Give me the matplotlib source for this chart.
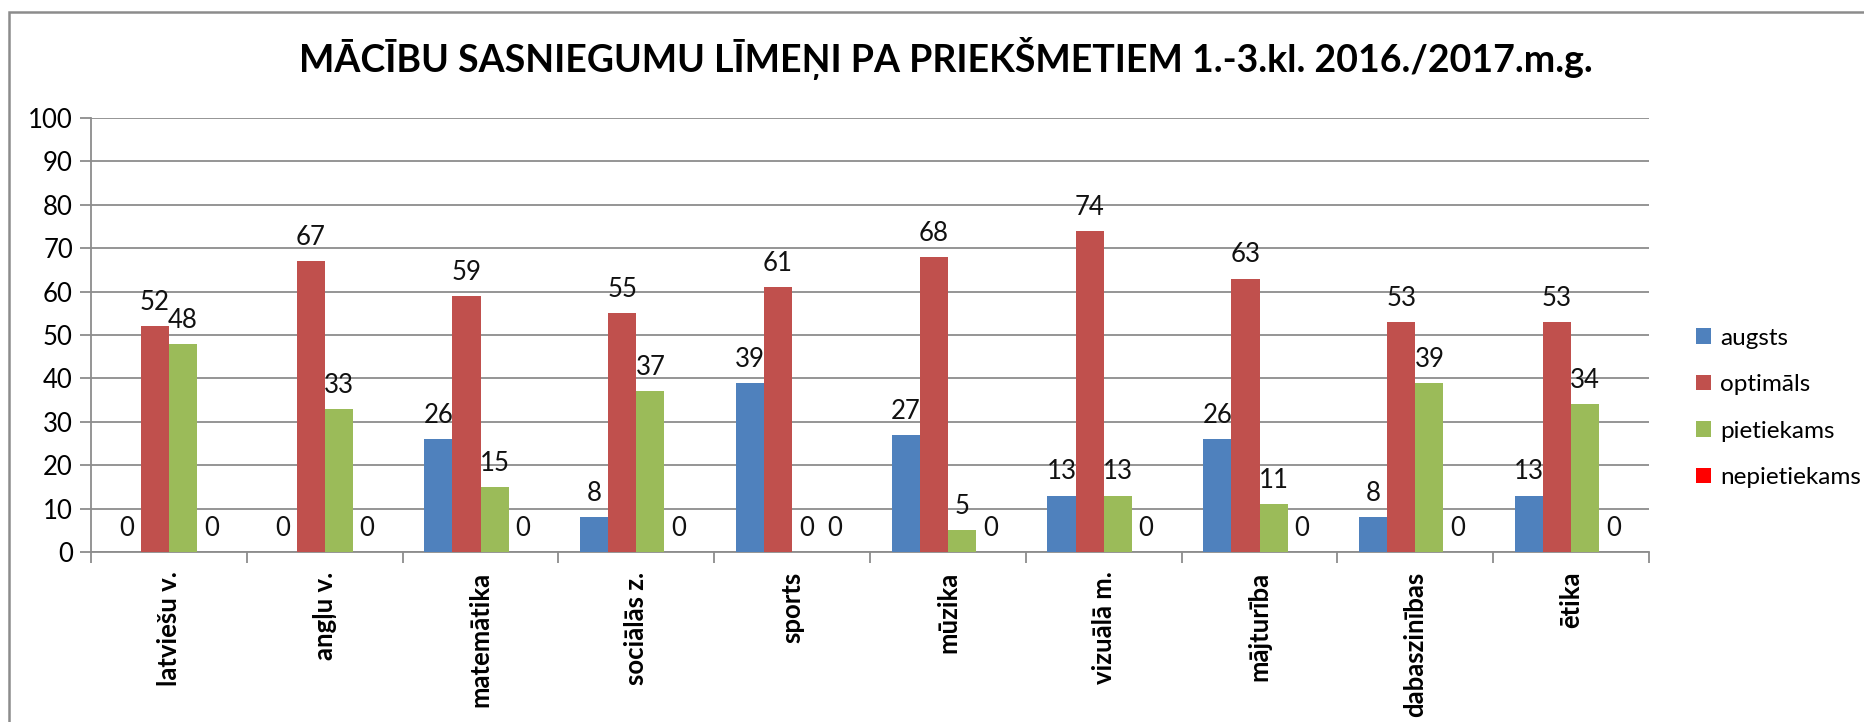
import numpy as np
import matplotlib
matplotlib.use("Agg")
import matplotlib.pyplot as plt
from matplotlib.patches import Rectangle

plt.rcParams['font.family'] = ['Lato', 'DejaVu Sans']

# Subjects and achievement levels (percent)
subjects = ["latviešu v.", "angļu v.", "matemātika", "sociālās z.", "sports",
            "mūzika", "vizuālā m.", "mājturība", "dabaszinības", "ētika"]
augsts = [0, 0, 26, 8, 39, 27, 13, 26, 8, 13]
optimals = [52, 67, 59, 55, 61, 68, 74, 63, 53, 53]
pietiekams = [48, 33, 15, 37, 0, 5, 13, 11, 39, 34]
nepietiekams = [0, 0, 0, 0, 0, 0, 0, 0, 0, 0]

series_names = ["augsts", "optimāls", "pietiekams", "nepietiekams"]
colors = ["#4F81BD", "#C0504D", "#9BBB59", "#FF0000"]

fs = 18.5

fig = plt.figure(figsize=(18.65, 7.22), dpi=100)
ax = fig.add_axes([91 / 1865, 1 - 552 / 722, (1649 - 91) / 1865, (552 - 118) / 722])

# outer chart frame like in excel
fig.patches.append(Rectangle((9 / 1865, -0.2), 1.2, 1.2 - 12 / 722,
                             transform=fig.transFigure, fill=False,
                             edgecolor="#8c8c8c", linewidth=1.8))

x = np.arange(len(subjects))
w = 0.181
data = [augsts, optimals, pietiekams, nepietiekams]
for i, (vals, name, col) in enumerate(zip(data, series_names, colors)):
    pos = x + (i - 1.5) * w
    bars = ax.bar(pos, vals, w, color=col, label=name, zorder=3)
    for b, v in zip(bars, vals):
        ax.annotate(str(v), (b.get_x() + b.get_width() / 2, v),
                    xytext=(0, 8), textcoords="offset points",
                    ha="center", va="bottom", fontsize=fs, color="#111111")

ax.set_xlim(-0.5, len(subjects) - 0.5)
ax.set_ylim(0, 100)
ax.set_yticks(range(0, 101, 10))
ax.grid(axis="y", color="#8c8c8c", linewidth=1.3, zorder=0)
ax.set_axisbelow(True)

ax.set_xticks(np.arange(len(subjects) + 1) - 0.5)
ax.set_xticklabels([])
ax.set_xticks(x, minor=True)
ax.set_xticklabels(subjects, minor=True, rotation=90, fontweight="bold",
                   fontsize=fs, va="top")
ax.tick_params(axis="x", which="minor", length=0, pad=14)
ax.tick_params(axis="x", which="major", length=8, width=1.3, color="#8c8c8c", direction="out")
ax.tick_params(axis="y", length=8, width=1.3, color="#8c8c8c", labelsize=fs, pad=5)

for s in ["top", "right"]:
    ax.spines[s].set_visible(False)
for s in ["left", "bottom"]:
    ax.spines[s].set_color("#8c8c8c")
    ax.spines[s].set_linewidth(1.3)

fig.text(946 / 1865, 1 - 59 / 722,
         "MĀCĪBU SASNIEGUMU LĪMEŅI PA PRIEKŠMETIEM 1.-3.kl. 2016./2017.m.g.",
         ha="center", va="center", fontsize=27, fontweight="bold")

fig.legend(loc="center left", bbox_to_anchor=(1684 / 1865, 1 - 408 / 722),
           frameon=False, fontsize=17.5, handlelength=0.6, handleheight=0.6,
           handletextpad=0.4, labelspacing=1.05, borderpad=0)

fig.savefig("out.png", dpi=100)
